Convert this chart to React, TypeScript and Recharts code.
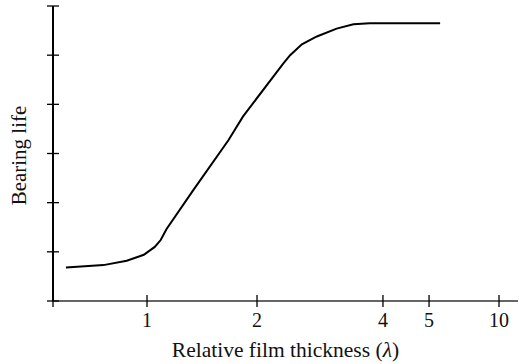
import React from 'react';
import { LineChart, Line, XAxis, YAxis, Label } from 'recharts';

// relative film thickness (lambda) and bearing life
const LAMBDA = [0.6, 0.76, 0.88, 0.98, 1.05, 1.09, 1.13, 1.34, 1.67, 1.83, 2.31, 2.4, 2.56, 2.78, 3.1, 3.4, 3.72, 5.58];
const LIFE = [0.68, 0.73, 0.82, 0.94, 1.1, 1.24, 1.46, 2.26, 3.27, 3.75, 4.83, 5.0, 5.22, 5.38, 5.54, 5.63, 5.65, 5.65];

const X_TICKS = [1, 2, 4, 5, 10];
const X_TICK_LABELS = ['1', '2', '4', '5', '10'];
const Y_TICKS = [0, 1, 2, 3, 4, 5, 6];

// the printed axis is not a true log scale: spacing between labelled ticks, in axis units
const X_TICK_STEPS = [0, 1, 2.145, 2.564, 3.2];
const X_MIN = 0.553;
const X_MAX = 12.07;

const warp = (lambda: number) => {
  const l = Math.log10(lambda);
  const logs = X_TICKS.map(t => Math.log10(t));
  let i = 0;
  while (i < logs.length - 2 && l > logs[i + 1]) i++;
  const slope = (X_TICK_STEPS[i + 1] - X_TICK_STEPS[i]) / (logs[i + 1] - logs[i]);
  return X_TICK_STEPS[i] + (l - logs[i]) * slope;
};

const data = LAMBDA.map((lambda, i) => ({ pos: warp(lambda), life: LIFE[i] }));

const FONT = '"Liberation Serif", "DejaVu Serif", serif';

const XTick = (props: any) => {
  const { x, y, payload } = props;
  const idx = X_TICKS.findIndex(t => Math.abs(warp(t) - payload.value) < 1e-6);
  return (
    <g>
      <line x1={x} x2={x} y1={y - 6} y2={y + 6} stroke="#000" strokeWidth={1.3} />
      {idx >= 0 && (
        <text x={x} y={y + 26} textAnchor="middle" fontFamily={FONT} fontSize={20} fill="#111">
          {X_TICK_LABELS[idx]}
        </text>
      )}
    </g>
  );
};

const YTick = (props: any) => {
  const { x, y } = props;
  return <line x1={x - 6} x2={x + 6} y1={y} y2={y} stroke="#000" strokeWidth={1.3} />;
};

const XTitle = (props: any) => {
  const vb = props.viewBox || { x: 53, y: 301, width: 465 };
  return (
    <text x={vb.x + vb.width / 2} y={vb.y + 56} textAnchor="middle" fontFamily={FONT} fontSize={21.5} fill="#111">
      Relative film thickness (<tspan fontStyle="italic">λ</tspan>)
    </text>
  );
};

const YTitle = (props: any) => {
  const vb = props.viewBox || { x: 0, y: 6, height: 295 };
  const cx = 26;
  const cy = vb.y + vb.height / 2 + 2;
  return (
    <text x={cx} y={cy} transform={`rotate(-90 ${cx} ${cy})`} textAnchor="middle" fontFamily={FONT} fontSize={21} fill="#111">
      Bearing life
    </text>
  );
};

export default function App() {
  return (
    <div style={{ position: 'absolute', left: 0, top: 0, background: '#fff' }}>
      <LineChart width={519} height={364} data={data} margin={{ top: 6, right: 1, bottom: 3, left: 0 }}>
        <XAxis
          type="number"
          dataKey="pos"
          domain={[warp(X_MIN), warp(X_MAX)]}
          ticks={[X_MIN, ...X_TICKS].map(warp)}
          interval={0}
          allowDataOverflow
          height={60}
          tickSize={0}
          tickMargin={0}
          tickLine={false}
          axisLine={{ stroke: '#333', strokeWidth: 1.5 }}
          tick={<XTick />}
        >
          <Label content={<XTitle />} />
        </XAxis>
        <YAxis
          type="number"
          domain={[0, 6]}
          ticks={Y_TICKS}
          interval={0}
          width={53}
          tickSize={0}
          tickMargin={0}
          tickLine={false}
          axisLine={{ stroke: '#000', strokeWidth: 2 }}
          tick={<YTick />}
        >
          <Label content={<YTitle />} />
        </YAxis>
        <Line type="linear" dataKey="life" stroke="#000" strokeWidth={2} dot={false} isAnimationActive={false} />
      </LineChart>
    </div>
  );
}
